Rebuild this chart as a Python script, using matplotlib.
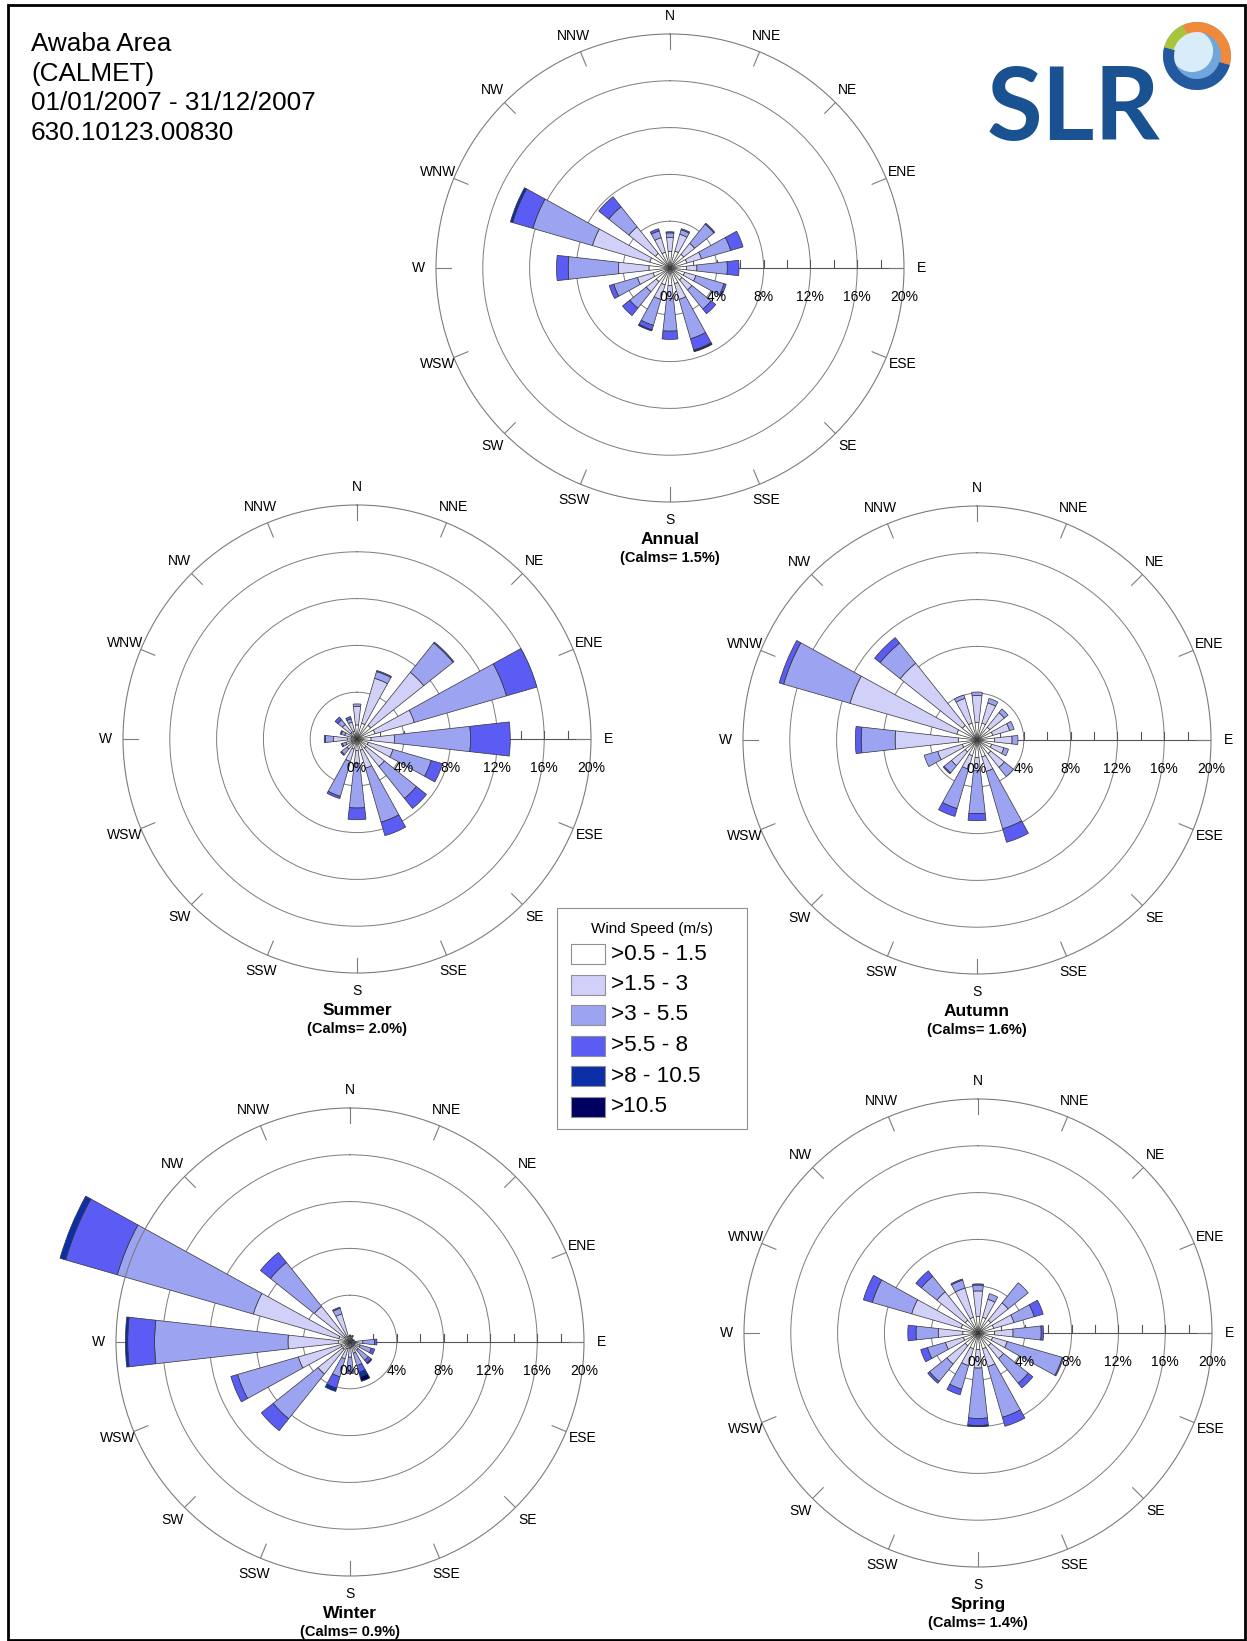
import numpy as np
import matplotlib.pyplot as plt
from matplotlib.patches import Rectangle, Circle, Wedge

W, H = 1247, 1641
R20 = 234  # pixel radius of the 20% ring

directions = ["N", "NNE", "NE", "ENE", "E", "ESE", "SE", "SSE",
              "S", "SSW", "SW", "WSW", "W", "WNW", "NW", "NNW"]
speed_bins = [">0.5 - 1.5", ">1.5 - 3", ">3 - 5.5", ">5.5 - 8", ">8 - 10.5", ">10.5"]
colors = ["#ffffff", "#d0d0f8", "#9ca3f1", "#5a5cf4", "#0c2fa8", "#000060"]
ring_pcts = [0, 4, 8, 12, 16, 20]

# frequency (%) per speed class, 16 directions each (N clockwise)
annual = [
    [1.4, 1.5, 1.5, 1.5, 1.4, 1.3, 1.3, 1.4, 1.5, 1.5, 1.5, 1.5, 1.8, 1.8, 1.6, 1.4],
    [1.2, 1.5, 1.2, 1.3, 0.9, 1.0, 1.1, 1.4, 1.1, 1.3, 1.1, 1.4, 2.6, 5.1, 2.9, 1.3],
    [0.4, 0.4, 2.1, 2.6, 2.6, 2.5, 2.1, 3.5, 2.8, 2.3, 1.8, 2.1, 4.3, 5.3, 2.2, 0.6],
    [0.1, 0.1, 0.1, 1.1, 1.0, 0.2, 0.5, 1.0, 0.7, 0.4, 0.8, 0.4, 1.0, 1.8, 1.1, 0.2],
    [0, 0, 0, 0, 0, 0, 0, 0.1, 0, 0.1, 0, 0, 0, 0.2, 0, 0],
    [0, 0, 0, 0, 0, 0, 0, 0.05, 0, 0, 0, 0, 0, 0, 0, 0],
]
summer = [
    [1.2, 1.4, 1.5, 1.6, 1.2, 1.0, 1.0, 1.0, 1.0, 0.9, 0.5, 0.5, 0.8, 0.5, 0.7, 0.7],
    [1.6, 4.0, 5.8, 3.5, 2.0, 2.2, 2.0, 1.6, 1.1, 1.1, 0.6, 0.5, 1.2, 0.6, 0.9, 0.8],
    [0.2, 0.6, 3.2, 8.2, 6.5, 3.4, 3.5, 4.8, 3.8, 3.1, 0.6, 0.3, 0.7, 0.3, 0.5, 0.3],
    [0, 0.1, 0.1, 2.7, 3.4, 1.0, 1.1, 1.2, 1.0, 0.2, 0.1, 0.1, 0.1, 0.1, 0.3, 0.2],
    [0] * 16,
    [0] * 16,
]
autumn = [
    [1.5, 1.5, 1.4, 1.4, 1.5, 1.3, 1.5, 1.5, 1.5, 1.4, 1.3, 1.3, 1.6, 1.8, 1.6, 1.5],
    [2.3, 1.8, 1.6, 1.5, 1.5, 1.1, 1.5, 1.3, 1.1, 1.2, 1.5, 2.2, 5.4, 9.5, 6.8, 2.2],
    [0.3, 0.4, 0.4, 0.4, 0.5, 0.4, 1.0, 5.1, 3.7, 3.5, 0.8, 1.2, 2.9, 5.9, 2.2, 0.3],
    [0, 0, 0, 0, 0, 0, 0, 1.2, 0.6, 0.7, 0.1, 0, 0.5, 0.4, 0.6, 0],
    [0] * 16,
    [0] * 16,
]
winter = [
    [0.3, 0.3, 0.2, 0.2, 0.5, 0.4, 0.4, 0.4, 0.5, 0.6, 0.8, 0.8, 1.0, 1.0, 0.6, 0.5],
    [0.2, 0.2, 0.1, 0.1, 0.6, 0.5, 0.5, 0.6, 0.8, 0.9, 2.7, 3.8, 4.3, 7.6, 3.3, 2.0],
    [0.1, 0.1, 0.05, 0.1, 1.0, 1.0, 1.1, 1.1, 1.2, 1.6, 4.9, 5.4, 11.4, 12.1, 4.8, 0.5],
    [0, 0, 0, 0, 0.2, 0.3, 0.3, 0.6, 0.2, 1.0, 1.3, 0.6, 2.3, 4.6, 1.1, 0.1],
    [0, 0, 0, 0, 0, 0, 0.1, 0.4, 0, 0.3, 0, 0, 0.2, 0.5, 0, 0],
    [0, 0, 0, 0, 0, 0, 0, 0.4, 0, 0, 0, 0, 0, 0, 0, 0],
]
spring = [
    [1.4, 1.4, 1.4, 1.4, 1.4, 1.3, 1.4, 1.4, 1.4, 1.4, 1.4, 1.3, 1.3, 1.5, 1.4, 1.4],
    [2.2, 1.6, 1.9, 1.8, 1.6, 1.3, 1.4, 1.6, 1.6, 1.5, 2.0, 1.6, 2.1, 4.4, 3.1, 2.6],
    [0.5, 0.5, 2.2, 1.8, 2.4, 4.9, 2.7, 4.5, 4.3, 2.1, 1.9, 1.6, 1.9, 3.5, 1.7, 0.7],
    [0.1, 0, 0, 0.8, 0.2, 0.1, 0.5, 0.8, 0.6, 0.5, 0.2, 0.6, 0.7, 0.8, 0.6, 0.1],
    [0, 0, 0, 0, 0, 0, 0, 0, 0.1, 0, 0, 0, 0, 0, 0, 0],
    [0] * 16,
]

season_names = ["Annual", "Summer", "Autumn", "Winter", "Spring"]
season_data = [annual, summer, autumn, winter, spring]
calms = [1.5, 2.0, 1.6, 0.9, 1.4]
centres = [(670, 268), (357, 739), (977, 740), (350, 1342), (978, 1333)]

header = ["Awaba Area", "(CALMET)", "01/01/2007 - 31/12/2007", "630.10123.00830"]

plt.rcParams['font.family'] = ['Liberation Sans', 'DejaVu Sans']
fig = plt.figure(figsize=(W / 100, H / 100), dpi=100)

# pixel-space overlay for the page furniture
bg = fig.add_axes([0, 0, 1, 1])
bg.set_xlim(0, W); bg.set_ylim(H, 0); bg.axis('off')

GRID = '#7c7c7c'


def rose(cx, cy, data, name, calm):
    ax = fig.add_axes([(cx - R20) / W, 1 - (cy + R20) / H, 2 * R20 / W, 2 * R20 / H],
                      projection='polar')
    ax.set_theta_zero_location('N')
    ax.set_theta_direction(-1)
    ax.patch.set_alpha(0)
    ax.set_ylim(0, 20)
    ax.set_xticks([])
    ax.set_yticks([4, 8, 12, 16])
    ax.set_yticklabels([])
    ax.tick_params(length=0)
    ax.xaxis.grid(False)
    ax.yaxis.grid(True, color=GRID, lw=0.7)
    ax.set_axisbelow(True)
    ax.spines['polar'].set_edgecolor(GRID)
    ax.spines['polar'].set_linewidth(0.8)

    theta = np.arange(16) * 2 * np.pi / 16

    # scale axis along E with ticks every 2 %
    ax.plot([np.pi / 2] * 2, [0, 20], color='#555555', lw=0.8, zorder=0.8)
    for r in range(2, 21, 2):
        h = 0.7
        ax.plot([np.pi / 2, np.arctan2(r, h)], [r, np.hypot(r, h)],
                color='#555555', lw=0.8, zorder=0.8)

    # direction ticks and labels (under the bars)
    for th, lab in zip(theta, directions):
        ax.plot([th, th], [18.7, 20], color=GRID, lw=0.8, zorder=0.9)
        ax.text(th, 21.5, lab, ha='center', va='center', fontsize=10, clip_on=False,
                zorder=1)

    # stacked bars
    bottom = np.zeros(16)
    for vals, col in zip(data, colors):
        vals = np.asarray(vals, dtype=float)
        m = vals > 0
        if m.any():
            ax.bar(theta[m], vals[m], width=np.radians(12.8), bottom=bottom[m],
                   color=col, edgecolor='#333333', linewidth=0.5, clip_on=False, zorder=2)
        bottom += vals

    for r in ring_pcts:
        ax.annotate(f"{r}%", xy=(np.pi / 2, r), xytext=(0, -21), textcoords='offset points',
                    ha='center', va='center', fontsize=10, annotation_clip=False, zorder=3)

    ax.annotate(name, xy=(0, 0), xytext=(0, -272 * 0.72), textcoords='offset points',
                ha='center', va='center', fontsize=12.5, fontweight='bold',
                annotation_clip=False)
    ax.annotate(f"(Calms= {calm:.1f}%)", xy=(0, 0), xytext=(0, -290 * 0.72),
                textcoords='offset points', ha='center', va='center', fontsize=10.5,
                fontweight='bold', annotation_clip=False)


for (cx, cy), d, n, c in zip(centres, season_data, season_names, calms):
    rose(cx, cy, d, n, c)

# header text
for i, line in enumerate(header):
    bg.text(31, 51 + i * 29.6, line, fontsize=18.8, va='baseline', ha='left')

# legend
bg.add_patch(Rectangle((557, 908), 190, 221, fill=False, ec='#909090', lw=0.8))
bg.text(652, 929, "Wind Speed (m/s)", ha='center', va='center', fontsize=11)
for i, (lab, col) in enumerate(zip(speed_bins, colors)):
    y0 = 944 + i * 30.5
    bg.add_patch(Rectangle((571, y0), 34, 20, fc=col, ec='#909090', lw=0.8))
    bg.text(611, y0 + 10, lab, ha='left', va='center', fontsize=16.2)

# SLR logo
bg.text(1073, 140, "SLR", ha='center', va='baseline', fontsize=73, fontweight='bold',
        color='#1a5190', family=['Lato', 'DejaVu Sans'])
gx, gy, gr = 1197, 56, 34
bg.add_patch(Circle((gx, gy), gr, fc='#6fa6dc', ec='none'))
bg.add_patch(Circle((gx - 5, gy - 5), gr * 0.62, fc='#d9ecfa', ec='none'))
bg.add_patch(Wedge((gx, gy), gr, 15, 195, width=11, fc='#24589f', ec='none'))
bg.add_patch(Wedge((gx, gy), gr, 245, 15, width=10, fc='#f08a3a', ec='none'))
bg.add_patch(Wedge((gx, gy), gr, 195, 245, width=10, fc='#a7c43a', ec='none'))

# page border
bg.add_patch(Rectangle((8, 5), 1237, 1635, fill=False, ec='black', lw=2))

fig.savefig("out.png", dpi=100)
